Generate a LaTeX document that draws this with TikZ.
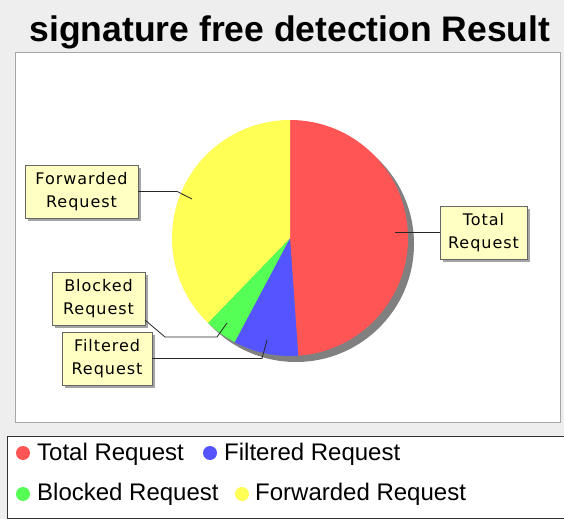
\documentclass[tikz,border=0pt]{standalone}
\usepackage{fontspec}
\setmainfont{Liberation Sans}
\newfontfamily\lblfont[LetterSpace=6]{DejaVu Sans}
\usetikzlibrary{calc,shadows}

\definecolor{pieRed}{HTML}{FF5555}
\definecolor{pieBlue}{HTML}{5555FF}
\definecolor{pieGreen}{HTML}{55FF55}
\definecolor{pieYellow}{HTML}{FFFF55}
\definecolor{lblYellow}{HTML}{FFFFC4}
\definecolor{panelGray}{HTML}{EEEEEE}

\begin{document}
\begin{tikzpicture}[x=1pt,y=1pt,
    lbl/.style={draw=gray!80!black,fill=lblYellow,align=center,inner sep=0pt,
      minimum height=53pt,font=\lblfont\fontsize{16}{23}\selectfont,
      drop shadow={shadow xshift=3pt,shadow yshift=-3pt,fill=gray,opacity=.7}},
    link/.style={gray!30!black,line width=.8pt},
    key/.style={circle,inner sep=0pt,minimum size=14pt},
    keytext/.style={anchor=base west,inner sep=0pt,font=\fontsize{24}{28}\selectfont}]
    \useasboundingbox (0,0) rectangle (564,519);
    \fill[panelGray] (0,0) rectangle (564,519);

    % title and plot panel
    \node[font=\bfseries\fontsize{35.5}{40}\selectfont,anchor=base] (title) at (290,477) {signature free detection Result};
    \draw[gray!70,fill=white] (15,97) rectangle (560,467);

    % pie with its shadow
    \coordinate (c) at (290,281);
    \fill[gray] ($(c)+(6,-6)$) circle[radius=118];
    \fill[pieRed] (c) -- ++(90:118) arc[start angle=90,end angle=-86,radius=118] -- cycle;
    \fill[pieBlue] (c) -- ++(-86:118) arc[start angle=-86,end angle=-118,radius=118] -- cycle;
    \fill[pieGreen] (c) -- ++(-118:118) arc[start angle=-118,end angle=-134,radius=118] -- cycle;
    \fill[pieYellow] (c) -- ++(-134:118) arc[start angle=-134,end angle=-270,radius=118] -- cycle;

    % section labels
    \node[lbl,minimum width=113pt] (fwd) at (81.5,327.5) {Forwarded\\Request};
    \node[lbl,minimum width=93pt] (blk) at (98.5,220.5) {Blocked\\Request};
    \node[lbl,minimum width=90pt] (fil) at (107,160.5) {Filtered\\Request};
    \node[lbl,minimum width=87pt] (tot) at (483.5,286.5) {Total\\Request};

    \coordinate (fwdin) at (192,320);
    \coordinate (blkin) at (227,196);
    \coordinate (filin) at (267,179);
    \coordinate (totin) at (395,286.5);
    \draw[link] (fwd.east) -- ++(39,0) -- (fwdin);
    \draw[link] ([yshift=5pt]blk.south east) -- (165,182) -- (217,182) -- (blkin);
    \draw[link] (fil.east) -- (262,160.5) -- (filin);
    \draw[link] (tot.west) -- (totin);

    % legend
    \draw[black!80,fill=white,line width=1pt] (7,1) rectangle (570,83);
    \node[key,fill=pieRed] (kTot) at (23,66) {};
    \node[keytext] (tTot) at (37,59) {Total Request};
    \node[key,fill=pieBlue] (kFil) at (210,66) {};
    \node[keytext] (tFil) at (224,59) {Filtered Request};
    \node[key,fill=pieGreen] (kBlk) at (23,25) {};
    \node[keytext] (tBlk) at (37,19) {Blocked Request};
    \node[key,fill=pieYellow] (kFwd) at (242,25) {};
    \node[keytext] (tFwd) at (255,19) {Forwarded Request};
\end{tikzpicture}
\end{document}
